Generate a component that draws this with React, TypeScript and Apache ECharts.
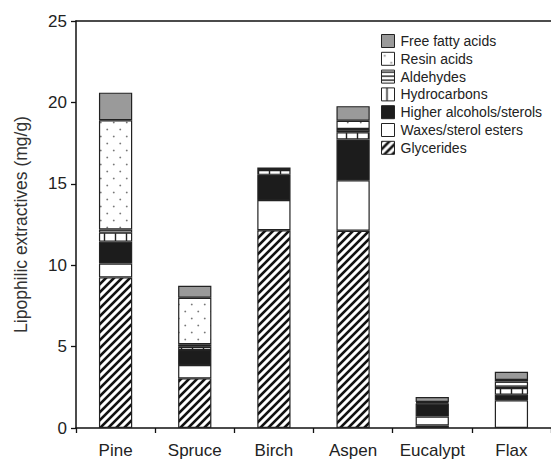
import React, { useEffect, useRef } from "react";
import * as echarts from "echarts";

const categories = ["Pine", "Spruce", "Birch", "Aspen", "Eucalypt", "Flax"];
const glycerides = [9.25, 3.05, 12.15, 12.12, 0.15, 0];
const waxes = [0.85, 0.82, 1.85, 3.1, 0.55, 1.7];
const higherAlcohols = [1.35, 0.92, 1.55, 2.5, 0.8, 0.35];
const hydrocarbons = [0.55, 0.2, 0.3, 0.45, 0.05, 0.4];
const aldehydes = [0.2, 0.15, 0.15, 0.2, 0.05, 0.4];
const resinAcids = [6.7, 2.86, 0, 0.5, 0, 0.1];
const freeFattyAcids = [1.7, 0.74, 0, 0.9, 0.3, 0.5];

const FONT = "'Liberation Sans', Arial, Helvetica, sans-serif";

function tile(w: number, h: number, draw: (ctx: CanvasRenderingContext2D) => void) {
  const s = 4;
  const c = document.createElement("canvas");
  c.width = w * s;
  c.height = h * s;
  const ctx = c.getContext("2d") as CanvasRenderingContext2D;
  ctx.scale(s, s);
  ctx.fillStyle = "#ffffff";
  ctx.fillRect(0, 0, w, h);
  draw(ctx);
  return { image: c.toDataURL(), repeat: "repeat", imageWidth: w, imageHeight: h } as any;
}

export default function App() {
  const ref = useRef<HTMLDivElement>(null);
  useEffect(() => {
    if (!ref.current) return;
    const chart = echarts.init(ref.current, undefined, { renderer: "svg" });

    const hatch = tile(8, 8, (ctx) => {
      ctx.strokeStyle = "#111";
      ctx.lineWidth = 2.6;
      for (const k of [-8, 0, 8]) {
        ctx.beginPath();
        ctx.moveTo(k - 2, 10);
        ctx.lineTo(k + 10, -2);
        ctx.stroke();
      }
    });
    const dots = tile(13, 14, (ctx) => {
      ctx.fillStyle = "#777";
      for (const [x, y] of [[3.25, 3.5], [9.75, 10.5]]) {
        ctx.beginPath();
        ctx.arc(x, y, 0.9, 0, Math.PI * 2);
        ctx.fill();
      }
    });
    const hLines = tile(4, 4, (ctx) => {
      ctx.fillStyle = "#222";
      ctx.fillRect(0, 1.4, 4, 1.4);
    });
    const vLines = tile(11, 4, (ctx) => {
      ctx.fillStyle = "#222";
      ctx.fillRect(4.8, 0, 1.4, 4);
    });

    const layers = [
      { name: "Glycerides", data: glycerides, color: hatch },
      { name: "Waxes/sterol esters", data: waxes, color: "#ffffff" },
      { name: "Higher alcohols/sterols", data: higherAlcohols, color: "#1c1c1c" },
      { name: "Hydrocarbons", data: hydrocarbons, color: vLines },
      { name: "Aldehydes", data: aldehydes, color: hLines },
      { name: "Resin acids", data: resinAcids, color: dots },
      { name: "Free fatty acids", data: freeFattyAcids, color: "#9a9a9a" },
    ];

    chart.setOption({
      animation: false,
      textStyle: { fontFamily: FONT },
      grid: { left: 76, right: 0, top: 21, bottom: 33, containLabel: false },
      legend: {
        orient: "vertical",
        left: 381,
        top: 34,
        padding: 0,
        itemWidth: 13,
        itemHeight: 13,
        itemGap: 3.8,
        icon: "rect",
        selectedMode: false,
        itemStyle: { borderColor: "#222", borderWidth: 1 },
        textStyle: { fontSize: 14, color: "#222", fontFamily: FONT, padding: [0, 0, 0, 1] },
        data: layers.map((l) => l.name).reverse(),
      },
      xAxis: [
        {
          type: "category",
          data: categories,
          axisLine: { lineStyle: { color: "#111", width: 1.5 } },
          axisTick: { show: true, inside: false, length: 5, lineStyle: { color: "#111", width: 1.3 } },
          axisLabel: { fontSize: 17, color: "#222", margin: 14, fontFamily: FONT, interval: 0 },
        },
        {
          type: "category",
          data: categories,
          position: "top",
          axisLine: { show: true, lineStyle: { color: "#111", width: 1.5 } },
          axisTick: { show: false },
          axisLabel: { show: false },
        },
      ],
      yAxis: {
        type: "value",
        min: 0,
        max: 25,
        interval: 5,
        name: "Lipophilic extractives (mg/g)",
        nameLocation: "middle",
        nameGap: 46,
        nameTextStyle: { fontSize: 17.5, color: "#333", fontFamily: FONT },
        axisLine: { show: true, lineStyle: { color: "#111", width: 1.5 } },
        axisTick: { show: true, inside: false, length: 5, lineStyle: { color: "#111", width: 1.3 } },
        axisLabel: { fontSize: 17, color: "#222", margin: 9, fontFamily: FONT },
        splitLine: { show: false },
      },
      series: layers.map((l) => ({
        name: l.name,
        type: "bar",
        stack: "total",
        barWidth: "42%",
        xAxisIndex: 0,
        data: l.data.map((v) => (v === 0 ? null : v)),
        itemStyle: { color: l.color, borderColor: "#222", borderWidth: 1.2 },
        emphasis: { disabled: true },
      })),
    });
    return () => chart.dispose();
  }, []);
  return (
    <div
      ref={ref}
      style={{ position: "fixed", left: 0, top: 0, width: 551, height: 461, background: "#fff" }}
    />
  );
}
